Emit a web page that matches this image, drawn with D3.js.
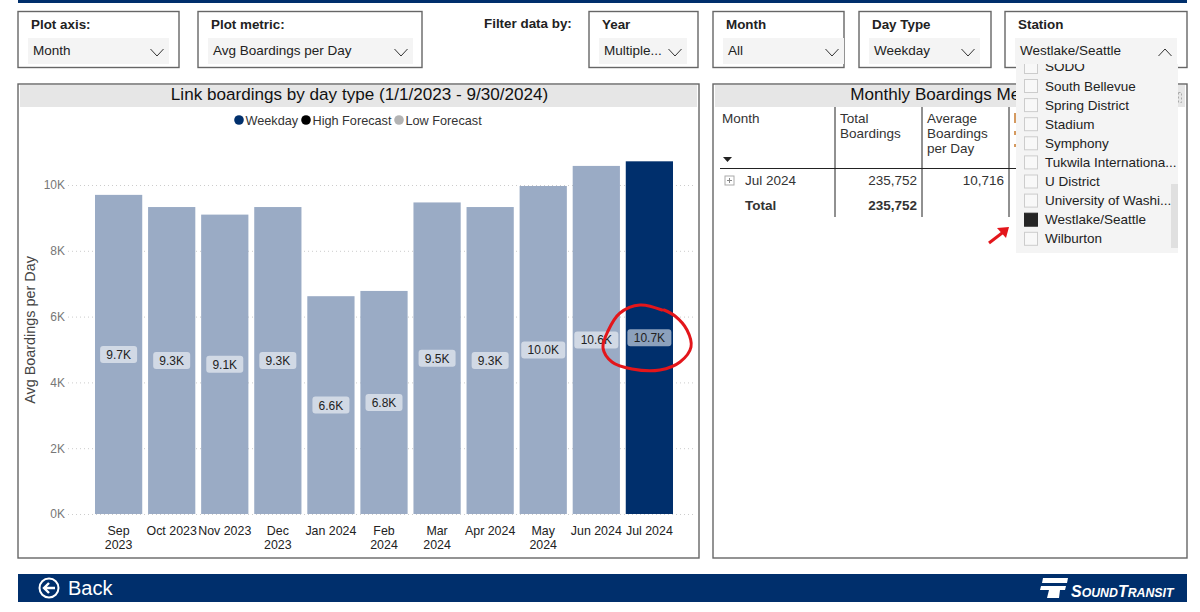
<!DOCTYPE html>
<html>
<head>
<meta charset="UTF-8">
<title>Link boardings by day type</title>
<style>
  body { margin: 0; background: #fff; }
  svg { display: block; font-family: 'Liberation Sans', Arial, sans-serif; }
  .box { fill: #fff; stroke: #666; stroke-width: 1.4; }
  .drop { fill: #f4f4f4; }
  .slabel { font-size: 13.4px; font-weight: bold; fill: #222; }
  .sval { font-size: 13.5px; fill: #222; }
  .chev { fill: none; stroke: #333; stroke-width: 1; }
  .grid line { stroke: #ccc; stroke-dasharray: 1 3; }
  .tick text { font-size: 12px; fill: #777; }
  .cat { font-size: 12.4px; fill: #222; text-anchor: middle; }
  .tbl { font-size: 13.5px; fill: #333; }
  .item { font-size: 13.5px; fill: #222; }
</style>
</head>
<body>
<svg id="chart" width="1200" height="612"></svg>

<script src="https://d3js.org/d3.v7.min.js"></script>
<script>
// values (thousands of boardings per weekday)
const months = ["Sep 2023", "Oct 2023", "Nov 2023", "Dec 2023", "Jan 2024", "Feb 2024", "Mar 2024", "Apr 2024", "May 2024", "Jun 2024", "Jul 2024"];
const boardings = [9.7, 9.33, 9.1, 9.33, 6.62, 6.78, 9.47, 9.33, 9.97, 10.58, 10.72];
const wrappedMonths = ["Sep 2023", "Dec 2023", "Feb 2024", "Mar 2024", "May 2024"];
const yTicks = [0, 2, 4, 6, 8, 10];
const legendItems = ["Weekday", "High Forecast", "Low Forecast"];
const legendColors = ["#002f6c", "#000", "#b3b3b3"];
const stations = ["South Bellevue", "Spring District", "Stadium", "Symphony", "Tukwila Internationa...", "U District", "University of Washi...", "Westlake/Seattle", "Wilburton"];
const tableHead = ["Month", "Total|Boardings", "Average|Boardings|per Day"];

const navy = "#002f6c", pale = "#9aabc5";
const svg = d3.select("#chart");

// top strip
svg.append("rect").attr("x", 18).attr("y", 0).attr("width", 1169).attr("height", 3).attr("fill", navy);

// slicers
const slicers = [
  {x: 18, w: 161, label: "Plot axis:", val: "Month", dx: 10, dw: 141},
  {x: 198, w: 224, label: "Plot metric:", val: "Avg Boardings per Day", dx: 10, dw: 205},
  {x: 589, w: 109, label: "Year", val: "Multiple...", dx: 10, dw: 88},
  {x: 713, w: 131, label: "Month", val: "All", dx: 10, dw: 121},
  {x: 859, w: 132, label: "Day Type", val: "Weekday", dx: 10, dw: 111},
  {x: 1005, w: 182, label: "Station", val: "Westlake/Seattle", dx: 10, dw: 162, open: true}
];
slicers.forEach(s => {
  let g = svg.append("g");
  g.append("rect").attr("class", "box").attr("x", s.x).attr("y", 11.5).attr("width", s.w).attr("height", 56);
  g.append("rect").attr("class", "drop").attr("x", s.x + s.dx).attr("y", 38).attr("width", s.dw).attr("height", 26);
  g.append("text").attr("class", "slabel").attr("x", s.x + 13).attr("y", 29).text(s.label);
  g.append("text").attr("class", "sval").attr("x", s.x + s.dx + 5).attr("y", 55).text(s.val);
  let cx = s.x + s.dx + s.dw - 12;
  g.append("path").attr("class", "chev")
    .attr("d", s.open ? `M${cx - 6.5},56 L${cx},49 L${cx + 6.5},56` : `M${cx - 6.5},49 L${cx},56 L${cx + 6.5},49`);
});
svg.append("text").attr("class", "slabel").attr("x", 484).attr("y", 28).text("Filter data by:");

// panels
[[18, 681, "Link boardings by day type (1/1/2023 - 9/30/2024)", 359.5], [713, 474, "Monthly Boardings Metrics", 951]].forEach(p => {
  svg.append("rect").attr("class", "box").attr("x", p[0]).attr("y", 84).attr("width", p[1]).attr("height", 474);
  svg.append("rect").attr("x", p[0] + 2).attr("y", 85).attr("width", p[1] - 4).attr("height", 22).attr("fill", "#e6e6e6");
  svg.append("text").attr("x", p[3]).attr("y", 99.5).attr("text-anchor", "middle")
    .attr("font-size", 17.1).attr("fill", "#111").text(p[2]);
});
// focus icon peeking out beside the dropdown
svg.append("rect").attr("x", 1178.5).attr("y", 92.5).attr("width", 3).attr("height", 10).attr("fill", "none").attr("stroke", "#aaa").attr("stroke-dasharray", "2 2");

// legend
const legendX = [239, 306, 399];
legendItems.forEach((d, i) => {
  svg.append("circle").attr("cx", legendX[i]).attr("cy", 120).attr("r", 4.8).attr("fill", legendColors[i]);
  svg.append("text").attr("x", legendX[i] + 6.5).attr("y", 125).attr("font-size", 12.7).attr("fill", "#333").text(d);
});

// scales
const x = d3.scaleBand().domain(months).range([95, 673]).paddingInner(0.11).paddingOuter(0);
const y = d3.scaleLinear().domain([0, 10]).range([514, 185]);

// gridlines and y axis
svg.append("g").attr("class", "grid")
  .attr("transform", "translate(68,0)")
  .call(d3.axisLeft(y).tickValues(yTicks).tickSize(-627).tickPadding(3).tickFormat(d => d + "K"))
  .call(g => g.select(".domain").remove());

svg.append("text")
  .attr("transform", "translate(35,330) rotate(-90)")
  .attr("text-anchor", "middle").attr("font-size", 14.4).attr("fill", "#444")
  .text("Avg Boardings per Day");

// bars
const last = months[months.length - 1];
svg.append("g").selectAll("rect").data(months).join("rect")
  .attr("x", d => x(d))
  .attr("width", x.bandwidth())
  .attr("y", (d, i) => y(boardings[i]))
  .attr("height", (d, i) => y(0) - y(boardings[i]))
  .attr("fill", d => d === last ? navy : pale);

// data label pills, centred on each bar
const fmt = d3.format(".1f");
const labels = svg.append("g").selectAll("g").data(months).join("g")
  .attr("transform", (d, i) => `translate(${x(d) + x.bandwidth() / 2},${y(boardings[i] / 2)})`);
labels.append("rect").attr("x", (d, i) => boardings[i] >= 9.95 ? -22 : -18.5).attr("y", -8.5)
  .attr("width", (d, i) => boardings[i] >= 9.95 ? 44 : 37).attr("height", 17).attr("rx", 3)
  .attr("fill", "#fff").attr("fill-opacity", 0.55);
labels.append("text").attr("text-anchor", "middle").attr("y", 4.5).attr("font-size", 12).attr("fill", "#222")
  .text((d, i) => fmt(boardings[i]) + "K");

// category labels, some wrapped on two lines
months.forEach(m => {
  let cx = x(m) + x.bandwidth() / 2;
  let parts = wrappedMonths.includes(m) ? m.split(" ") : [m];
  parts.forEach((t, i) => {
    svg.append("text").attr("class", "cat").attr("x", cx).attr("y", 535 + i * 13.5).text(t);
  });
});

// table
[835, 922, 1009].forEach(px => {
  svg.append("line").attr("x1", px).attr("x2", px).attr("y1", 107).attr("y2", 217).attr("stroke", "#222");
});
svg.append("line").attr("x1", 720).attr("x2", 1016).attr("y1", 168.5).attr("y2", 168.5).attr("stroke", "#222");
const headX = [722, 840, 927];
tableHead.forEach((h, i) => {
  h.split("|").forEach((t, j) => {
    svg.append("text").attr("class", "tbl").attr("x", headX[i]).attr("y", 123 + j * 15).text(t);
  });
});
// clipped orange header text of the hidden column
svg.append("path").attr("d", "M1015,113 V123 M1015,131 V135 M1015,144 V147").attr("stroke", "#c87a2c").attr("stroke-width", 1.5);
svg.append("path").attr("d", "M723,157 L732,157 L727.5,162 Z").attr("fill", "#222");
svg.append("rect").attr("x", 725).attr("y", 176).attr("width", 9).attr("height", 9).attr("fill", "none").attr("stroke", "#aaa");
svg.append("path").attr("d", "M727,180.5 H732 M729.5,178 V183").attr("stroke", "#888");
svg.append("text").attr("class", "tbl").attr("x", 745).attr("y", 185).text("Jul 2024");
svg.append("text").attr("class", "tbl").attr("x", 745).attr("y", 210).attr("font-weight", "bold").text("Total");
svg.append("text").attr("class", "tbl").attr("x", 917).attr("y", 185).attr("text-anchor", "end").text("235,752");
svg.append("text").attr("class", "tbl").attr("x", 917).attr("y", 210).attr("text-anchor", "end").attr("font-weight", "bold").text("235,752");
svg.append("text").attr("class", "tbl").attr("x", 1004).attr("y", 185).attr("text-anchor", "end").text("10,716");

// open station dropdown
svg.append("rect").attr("x", 1016).attr("y", 64).attr("width", 162).attr("height", 189).attr("fill", "#f4f4f4");
svg.append("defs").append("clipPath").attr("id", "dropClip").append("rect").attr("x", 1016).attr("y", 64).attr("width", 162).attr("height", 189);
const drop = svg.append("g").attr("clip-path", "url(#dropClip)");
drop.append("rect").attr("x", 1024.5).attr("y", 60.5).attr("width", 13).attr("height", 13).attr("fill", "#f8f8f8").attr("stroke", "#ccc");
drop.append("text").attr("class", "item").attr("x", 1045).attr("y", 71).text("SODO");
stations.forEach((s, i) => {
  let yy = 86 + i * 19.1;
  let on = s === "Westlake/Seattle";
  drop.append("rect").attr("x", 1024.5).attr("y", yy - 6.5).attr("width", 13).attr("height", 13)
    .attr("fill", on ? "#252525" : "#f8f8f8").attr("stroke", on ? "#252525" : "#ccc");
  drop.append("text").attr("class", "item").attr("x", 1045).attr("y", yy + 4.5).text(s);
});
drop.append("rect").attr("x", 1171).attr("y", 184).attr("width", 7).attr("height", 64).attr("fill", "#e0e0e0");

// red annotations
const hand = d3.line().curve(d3.curveCatmullRom);
svg.append("path").attr("fill", "none").attr("stroke", "#e3161b").attr("stroke-width", 3)
  .attr("stroke-linecap", "round")
  .attr("d", hand([[662, 310], [640, 305], [620, 313], [608, 331], [603, 348], [612, 362], [632, 369], [660, 370], [680, 362], [691, 347], [687, 330], [675, 316], [664, 310]]));
svg.append("path").attr("fill", "none").attr("stroke", "#e3161b").attr("stroke-width", 3)
  .attr("d", "M989,243 L1006,230");
svg.append("path").attr("fill", "#e3161b").attr("d", "M997,228 L1009,227 L1006,238 Z");

// back bar
svg.append("rect").attr("x", 18).attr("y", 574).attr("width", 1169).attr("height", 28).attr("fill", navy);
svg.append("circle").attr("cx", 49).attr("cy", 588).attr("r", 9.5).attr("fill", "none").attr("stroke", "#fff").attr("stroke-width", 2);
svg.append("path").attr("fill", "none").attr("stroke", "#fff").attr("stroke-width", 2.4)
  .attr("d", "M55,588 H44 M49,583 L44,588 L49,593");
svg.append("text").attr("x", 68).attr("y", 595).attr("font-size", 20).attr("fill", "#fff").text("Back");

// logo
svg.append("path").attr("fill", "#fff")
  .attr("d", "M1043,578 H1068 L1067,583 H1042 Z M1041,586 H1066 L1065,590 H1060 L1059,598 H1047 L1049,590 H1040 Z");
const logo = svg.append("text").attr("x", 1071).attr("y", 597).attr("fill", "#fff").attr("font-weight", "bold").attr("font-style", "italic");
[["S", 16], ["OUND", 12.3], ["T", 16], ["RANSIT", 12.3]].forEach(p => {
  logo.append("tspan").attr("font-size", p[1]).text(p[0]);
});
</script>
</body>
</html>
